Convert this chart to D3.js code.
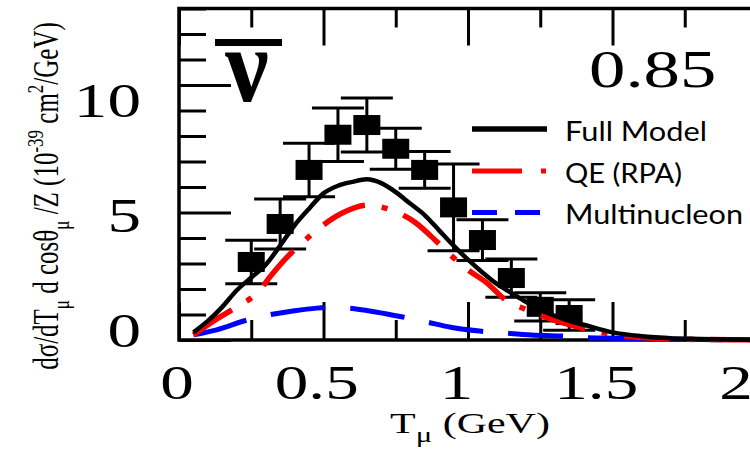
<!DOCTYPE html>
<html>
<head>
<meta charset="utf-8">
<script src="https://cdn.jsdelivr.net/npm/d3@7"></script>
<style>
  body { margin: 0; background: #fff; }
  svg { display: block; }
</style>
</head>
<body>
<svg id="chart" width="750" height="455"></svg>
<script>
// Data points, muon kinetic energy bins
const DATA_T   = [0.25, 0.35, 0.45, 0.55, 0.65, 0.75, 0.85, 0.95, 1.05, 1.15, 1.25, 1.35];
const DATA_Y   = [3.06, 4.55, 6.67, 8.05, 8.43, 7.5, 6.67, 5.2, 3.92, 2.43, 1.3, 0.98];
const DATA_ERR = [0.85, 0.98, 1.05, 1.05, 1.06, 0.8, 0.72, 1.7, 0.8, 0.75, 0.55, 0.6];

// Model curves
const FULL_T = [0.05, 0.1, 0.15, 0.2, 0.25, 0.3, 0.35, 0.4, 0.45, 0.5, 0.55, 0.6, 0.65, 0.7, 0.75, 0.8, 0.85, 0.9, 0.95, 1.0, 1.05, 1.1, 1.15, 1.2, 1.25, 1.3, 1.35, 1.4, 1.5, 1.6, 1.7, 1.8, 1.9, 2.0];
const FULL_Y = [0.3, 0.75, 1.3, 1.95, 2.45, 2.95, 3.7, 4.5, 5.15, 5.75, 6.05, 6.2, 6.3, 6.15, 5.8, 5.35, 4.9, 4.3, 3.7, 3.15, 2.65, 2.2, 1.85, 1.5, 1.2, 0.95, 0.75, 0.6, 0.3, 0.15, 0.07, 0.04, 0.02, 0.01];

const QE_T = [0.05, 0.135, 0.2, 0.27, 0.32, 0.37, 0.43, 0.49, 0.565, 0.654, 0.72, 0.82, 0.886, 0.94, 1.0, 1.065, 1.13, 1.2, 1.28, 1.35, 1.4, 1.5, 1.6, 1.7, 1.8, 2.0];
const QE_Y = [0.2, 0.86, 1.3, 1.84, 2.55, 3.2, 3.85, 4.43, 4.98, 5.29, 5.15, 4.59, 3.92, 3.33, 2.75, 2.24, 1.57, 1.2, 0.85, 0.6, 0.45, 0.22, 0.1, 0.05, 0.02, 0.01];

const MEC_T = [0.05, 0.13, 0.235, 0.31, 0.4, 0.477, 0.53, 0.585, 0.68, 0.775, 0.86, 0.94, 1.04, 1.13, 1.22, 1.32, 1.4, 1.5, 1.6, 1.7, 1.8, 2.0];
const MEC_Y = [0.2, 0.4, 0.78, 0.98, 1.15, 1.25, 1.28, 1.25, 1.1, 0.9, 0.7, 0.5, 0.35, 0.27, 0.2, 0.16, 0.1, 0.07, 0.05, 0.03, 0.02, 0.01];

const X_TICKS  = [0, 0.5, 1, 1.5, 2];
const X_MINOR  = [0.25, 0.75, 1.25, 1.75];
const X_LABELS = ['0', '0.5', '1', '1.5', '2'];
const Y_TICKS  = [0, 5, 10];
const Y_MINOR  = [1, 2, 3, 4, 6, 7, 8, 9, 11, 12, 13];
const Y_LABELS = ['0', '5', '10'];

const LEGEND = ['Full Model', 'QE (RPA)', 'Multinucleon'];

const svg = d3.select('#chart');
const SERIF = '"Liberation Serif", "Times New Roman", serif';
const SX = 1.4; // the figure is stretched horizontally

const x = d3.scaleLinear().domain([0, 2]).range([179, 757]);
const y = d3.scaleLinear().domain([0, 13]).range([340, 8.5]);
// tick labels sit a bit off the tick marks in the original
const xLab = d3.scaleLinear().domain([0, 2]).range([177, 736]);
const yLab = d3.scaleLinear().domain([0, 10]).range([331, 101]);

function stretched(parent, px, py, size, anchor) {
  return parent.append('text')
    .attr('transform', `translate(${px},${py}) scale(${SX},1)`)
    .attr('font-family', SERIF).attr('font-size', size)
    .attr('text-anchor', anchor).attr('fill', '#000');
}

// Ticks (all pointing inward)
function styleAxis(g) {
  g.select('.domain').remove();
  g.selectAll('.tick line').attr('stroke', '#000').attr('stroke-width', 3);
  g.selectAll('.tick text').remove();
}
svg.append('g').attr('transform', `translate(0,${y(0)})`)
  .call(d3.axisBottom(x).tickValues(X_TICKS).tickSize(-38)).call(styleAxis);
svg.append('g').attr('transform', `translate(0,${y(0)})`)
  .call(d3.axisBottom(x).tickValues(X_MINOR).tickSize(-20)).call(styleAxis);
svg.append('g').attr('transform', `translate(0,${y(13)})`)
  .call(d3.axisTop(x).tickValues(X_TICKS).tickSize(-37)).call(styleAxis);
svg.append('g').attr('transform', `translate(0,${y(13)})`)
  .call(d3.axisTop(x).tickValues(X_MINOR).tickSize(-19)).call(styleAxis);
svg.append('g').attr('transform', `translate(${x(0)},0)`)
  .call(d3.axisLeft(y).tickValues(Y_TICKS).tickSize(-52)).call(styleAxis);
svg.append('g').attr('transform', `translate(${x(0)},0)`)
  .call(d3.axisLeft(y).tickValues(Y_MINOR).tickSize(-27)).call(styleAxis);

// Frame
svg.append('rect')
  .attr('x', x(0)).attr('y', y(13))
  .attr('width', x(2) - x(0)).attr('height', y(0) - y(13))
  .attr('fill', 'none').attr('stroke', '#000').attr('stroke-width', 3.5);

// Tick labels
X_TICKS.forEach((v, i) => {
  stretched(svg, xLab(v), 399, 48, 'middle').text(X_LABELS[i]);
});
Y_TICKS.forEach((v, i) => {
  stretched(svg, 141, yLab(v) + 16, 48, 'end').text(Y_LABELS[i]);
});

// Axis titles
const xt = stretched(svg, 390, 433, 30, 'start');
xt.append('tspan').text('T');
xt.append('tspan').attr('font-size', 22).attr('dy', 9).text('μ');
xt.append('tspan').attr('dy', -9).text(' (GeV)');

const yt = svg.append('text')
  .attr('transform', `translate(58,196) scale(${SX},1) rotate(-90)`)
  .attr('font-family', SERIF).attr('font-size', 25)
  .attr('text-anchor', 'middle').attr('fill', '#000');
yt.append('tspan').text('dσ/dT');
yt.append('tspan').attr('font-size', 17).attr('dy', 8).text('μ');
yt.append('tspan').attr('dy', -8).text(' d cosθ');
yt.append('tspan').attr('font-size', 17).attr('dy', 8).text('μ');
yt.append('tspan').attr('dy', -8).text(' /Z (10');
yt.append('tspan').attr('font-size', 17).attr('dy', -11).text('-39');
yt.append('tspan').attr('dy', 11).text(' cm');
yt.append('tspan').attr('font-size', 17).attr('dy', -11).text('2');
yt.append('tspan').attr('dy', 11).text('/GeV)');

// Anti-neutrino symbol and cos-theta bin
svg.append('line')
  .attr('x1', 215).attr('x2', 282).attr('y1', 42.5).attr('y2', 42.5)
  .attr('stroke', '#000').attr('stroke-width', 7);
svg.append('text')
  .attr('transform', `translate(247,101) scale(0.92,1)`)
  .attr('font-family', SERIF).attr('font-weight', 700).attr('font-size', 106)
  .attr('text-anchor', 'middle').text('ν');
stretched(svg, 589, 87, 52, 'start').text('0.85');

// Data points with error bars
const pts = svg.append('g');
DATA_T.forEach((t, i) => {
  const cx = x(t), v = DATA_Y[i], e = DATA_ERR[i];
  pts.append('line')
    .attr('x1', cx).attr('x2', cx).attr('y1', y(v - e)).attr('y2', y(v + e))
    .attr('stroke', '#000').attr('stroke-width', 3);
  [v - e, v + e].forEach(c => {
    pts.append('line')
      .attr('x1', cx - 26).attr('x2', cx + 26).attr('y1', y(c)).attr('y2', y(c))
      .attr('stroke', '#000').attr('stroke-width', 3);
  });
  pts.append('rect')
    .attr('x', cx - 13.5).attr('y', y(v) - 10)
    .attr('width', 27).attr('height', 20).attr('fill', '#000');
});

// Model curves
const line = d3.line().x(d => x(d[0])).y(d => y(d[1])).curve(d3.curveMonotoneX);
svg.append('path').datum(MEC_T.map((t, i) => [t, MEC_Y[i]]))
  .attr('d', line).attr('fill', 'none').attr('stroke', '#0000ff')
  .attr('stroke-width', 5).attr('stroke-dasharray', '55 25');
svg.append('path').datum(QE_T.map((t, i) => [t, QE_Y[i]]))
  .attr('d', line).attr('fill', 'none').attr('stroke', '#ff0000')
  .attr('stroke-width', 5.5).attr('stroke-dasharray', '46 17 6 17');
svg.append('path').datum(FULL_T.map((t, i) => [t, FULL_Y[i]]))
  .attr('d', line).attr('fill', 'none').attr('stroke', '#000')
  .attr('stroke-width', 4.5);

// Legend
const lg = svg.append('g');
lg.append('line').attr('x1', 472).attr('x2', 547).attr('y1', 129).attr('y2', 129)
  .attr('stroke', '#000').attr('stroke-width', 5.5);
lg.append('line').attr('x1', 472).attr('x2', 547).attr('y1', 171).attr('y2', 171)
  .attr('stroke', '#ff0000').attr('stroke-width', 5).attr('stroke-dasharray', '50 19 5 50');
lg.append('line').attr('x1', 472).attr('x2', 540).attr('y1', 212.5).attr('y2', 212.5)
  .attr('stroke', '#0000ff').attr('stroke-width', 5).attr('stroke-dasharray', '25 18');

const legY = [141, 183, 224];
const legW = [142, 117, 178];
LEGEND.forEach((s, i) => {
  lg.append('text')
    .attr('x', 565).attr('y', legY[i])
    .attr('font-family', 'Lato, "Open Sans", sans-serif').attr('font-size', 27)
    .attr('textLength', legW[i]).attr('lengthAdjust', 'spacingAndGlyphs')
    .attr('fill', '#000').text(s);
});
</script>
</body>
</html>
